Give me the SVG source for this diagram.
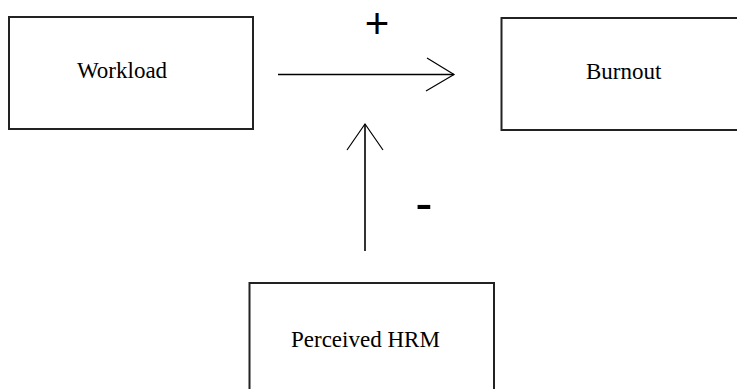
<svg xmlns="http://www.w3.org/2000/svg" width="737" height="389" viewBox="0 0 737 389">
<style>
.box{fill:#fff;stroke:#222;stroke-width:2}
.lbl{font-family:"Liberation Serif","Times New Roman",serif;font-size:23px;fill:#000}
.sign{font-family:"Liberation Sans",Arial,sans-serif;fill:#000}
.conn{stroke:#000;stroke-width:1.6;fill:none}
.head{stroke:#000;stroke-width:1.2;fill:none}
</style>
<rect width="737" height="389" fill="#fff"/>
<g id="workload">
<rect class="box" x="9" y="17" width="244" height="112"/>
<text class="lbl" x="77" y="78">Workload</text>
</g>
<g id="burnout">
<rect class="box" x="501.5" y="18" width="240" height="112"/>
<text class="lbl" x="586" y="79">Burnout</text>
</g>
<g id="perceived-hrm">
<rect class="box" x="249.5" y="283" width="244.5" height="120"/>
<text class="lbl" x="291" y="347">Perceived HRM</text>
</g>
<g id="connectors">
<line class="conn" x1="278" y1="74.5" x2="454" y2="74.5"/>
<polyline class="head" points="427,58 454,74.5 426,91"/>
<text class="sign" x="377" y="38" font-size="42" text-anchor="middle">+</text>
<line class="conn" x1="365" y1="251" x2="365" y2="124"/>
<polyline class="head" points="347,150 365,124 383,150"/>
<text class="sign" x="424" y="221" font-size="52" text-anchor="middle">-</text>
</g>
</svg>
